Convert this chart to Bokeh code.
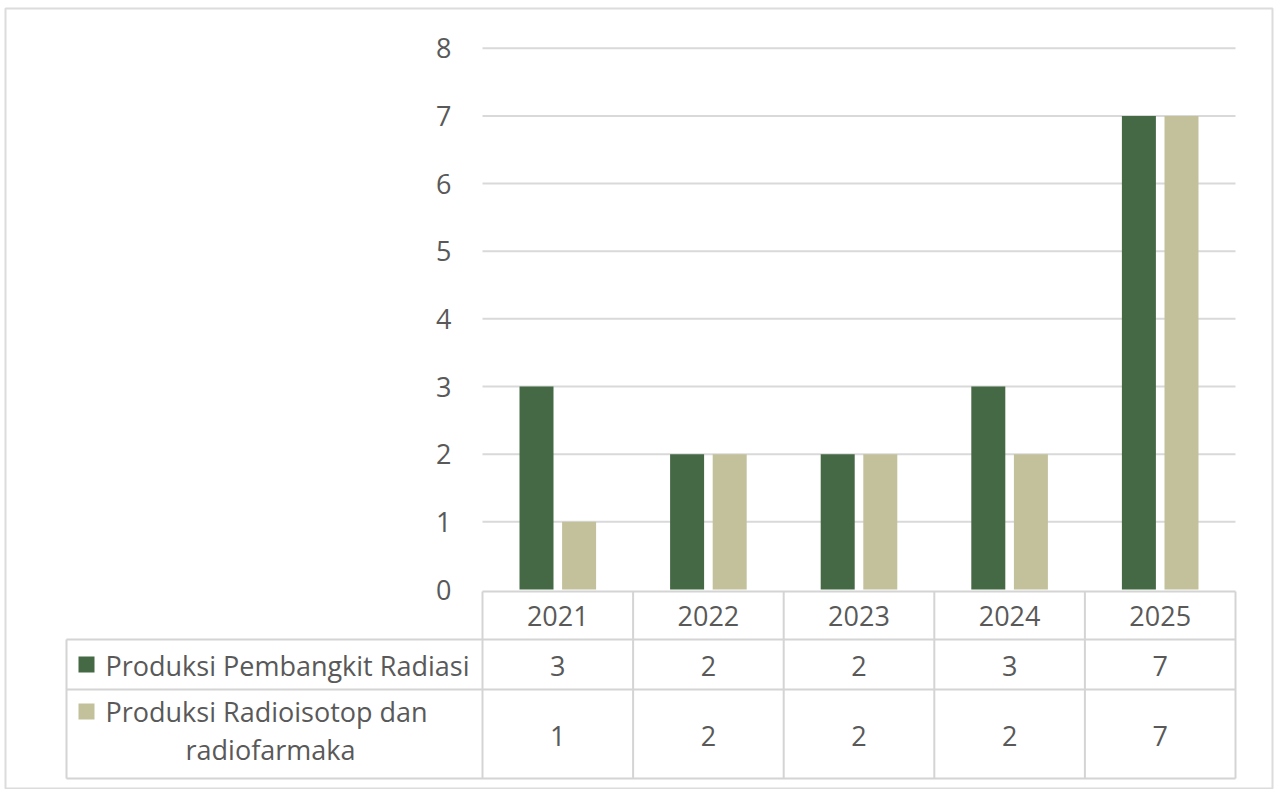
from bokeh.plotting import figure
from bokeh.models import Range1d, LinearAxis, FixedTicker
from bokeh.embed import file_html
from bokeh.resources import INLINE
from bokeh.core.properties import value

# ---------------- data ----------------
years = ["2021", "2022", "2023", "2024", "2025"]
series_names = ["Produksi Pembangkit Radiasi", "Produksi Radioisotop dan", "radiofarmaka"]
pembangkit = [3, 2, 2, 3, 7]
radioisotop = [1, 2, 2, 2, 7]
y_ticks = [0, 1, 2, 3, 4, 5, 6, 7, 8]

# ---------------- layout (pixels) ----------------
W, H = 1274, 789
FRAME_L, FRAME_T, FRAME_R, FRAME_B = 5, 8, 1272, 789
PLOT_X0 = 482          # left edge of the category area
CAT_W = 150.6          # width of one category in px
ZERO_Y = 589           # pixel row of value 0
UNIT_H = 67.66         # px per unit
LEG_X0 = 66            # left edge of legend column
HEADER_TOP, ROW1_TOP, ROW2_TOP, TABLE_BOT = 591, 639, 689, 778

DARK = "#456845"
LIGHT = "#c3c19b"
TXT = "#595959"
LINE = "#d4d4d4"
FONT = "Open Sans"
FS = "27px"


def dx(px):
    return (px - PLOT_X0) / CAT_W


def dy(py):
    return (ZERO_Y - py) / UNIT_H


p = figure(width=W, height=H,
           x_range=Range1d(dx(FRAME_L), dx(FRAME_R)),
           y_range=Range1d(dy(FRAME_B), dy(FRAME_T)),
           x_axis_location=None, y_axis_location=None,
           min_border_left=FRAME_L, min_border_top=FRAME_T,
           min_border_right=W - FRAME_R, min_border_bottom=H - FRAME_B,
           output_backend="svg", toolbar_location=None,
           outline_line_color="#dcdcdc", outline_line_width=2,
           background_fill_color="white", border_fill_color="white")
p.grid.visible = False

n = len(years)
idx = list(range(n))
x_end = float(n)

# y axis at the left edge of the category area
yaxis = LinearAxis(fixed_location=0, ticker=FixedTicker(ticks=y_ticks),
                   axis_line_color=None, major_tick_line_color=None,
                   minor_tick_line_color=None,
                   major_label_text_font=FONT, major_label_text_font_size=FS,
                   major_label_text_color=TXT, major_label_standoff=25)
p.add_layout(yaxis, "left")

# gridlines
gl = [t for t in y_ticks if t > 0]
p.segment(x0=[0] * len(gl), x1=[x_end] * len(gl), y0=gl, y1=gl,
          line_color="#d9d9d9", line_width=2)

# bars
off = 21.3 / CAT_W
bw = 34 / CAT_W
p.vbar(x=[i + 0.5 - off for i in idx], top=pembangkit, bottom=0, width=bw,
       fill_color=DARK, line_color=None)
p.vbar(x=[i + 0.5 + off for i in idx], top=radioisotop, bottom=0, width=bw,
       fill_color=LIGHT, line_color=None)

# ---------------- data table ----------------
hx0 = [0, dx(LEG_X0), dx(LEG_X0), dx(LEG_X0)]
hy = [dy(HEADER_TOP), dy(ROW1_TOP), dy(ROW2_TOP), dy(TABLE_BOT)]
p.segment(x0=hx0, x1=[x_end] * 4, y0=hy, y1=hy, line_color=LINE, line_width=2)
vx = [float(i) for i in range(n + 1)]
p.segment(x0=vx, x1=vx, y0=[dy(HEADER_TOP)] * len(vx), y1=[dy(TABLE_BOT)] * len(vx),
          line_color=LINE, line_width=2)
p.segment(x0=[dx(LEG_X0)], x1=[dx(LEG_X0)], y0=[dy(ROW1_TOP)], y1=[dy(TABLE_BOT)],
          line_color=LINE, line_width=2)

cx = [i + 0.5 for i in idx]
tkw = dict(text_font=value(FONT), text_font_size=value(FS), text_color=TXT,
           text_align="center", text_baseline="middle")
row1_mid = (ROW1_TOP + ROW2_TOP) / 2 + 1
row2_mid = (ROW2_TOP + TABLE_BOT) / 2 + 2
p.text(x=cx, y=[dy((HEADER_TOP + ROW1_TOP) / 2)] * n, text=years, **tkw)
p.text(x=cx, y=[dy(row1_mid)] * n, text=[str(v) for v in pembangkit], **tkw)
p.text(x=cx, y=[dy(row2_mid)] * n, text=[str(v) for v in radioisotop], **tkw)

# legend keys + labels
sq = 16
key_l, key_r = dx(LEG_X0 + 12), dx(LEG_X0 + 12 + sq)
l1_mid = row1_mid
l2_mid = 711
l3_mid = 749
p.quad(left=[key_l, key_l], right=[key_r, key_r],
       top=[dy(l1_mid - 9), dy(l2_mid - 8)], bottom=[dy(l1_mid - 9 + sq), dy(l2_mid - 8 + sq)],
       fill_color=[DARK, LIGHT], line_color=None)

lkw = dict(text_font=value(FONT), text_font_size=value(FS), text_color=TXT,
           text_baseline="middle")
p.text(x=[dx(LEG_X0 + 39)] * 2, y=[dy(l1_mid), dy(l2_mid)],
       text=series_names[:2], text_align="left", **lkw)
p.text(x=[dx((LEG_X0 + PLOT_X0) / 2 - 4)], y=[dy(l3_mid)],
       text=series_names[2:], text_align="center", **lkw)

open("out.html", "w").write(file_html(p, INLINE))
